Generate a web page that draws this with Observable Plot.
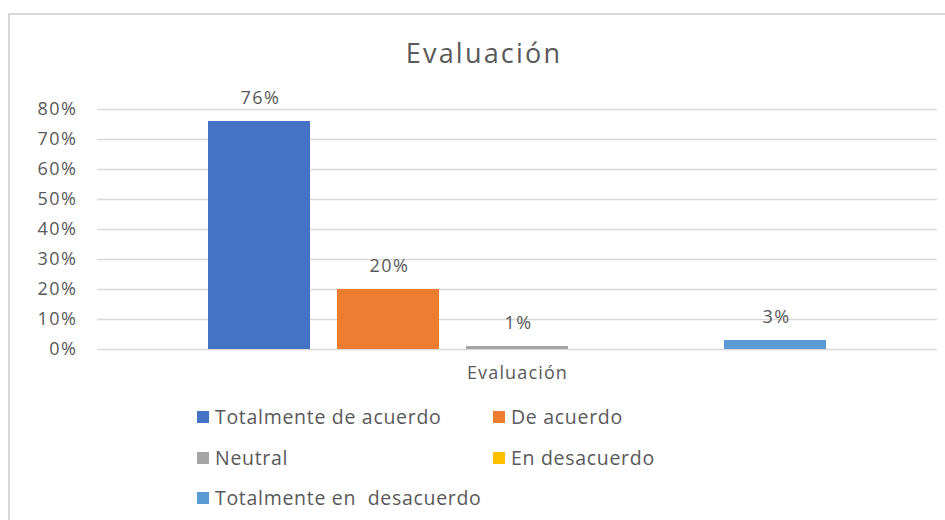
<!DOCTYPE html>
<html>
<head>
<meta charset="utf-8">
<script src="https://cdn.jsdelivr.net/npm/d3@7"></script>
<script src="https://cdn.jsdelivr.net/npm/@observablehq/plot@0.6"></script>
<style>
  html, body { margin: 0; padding: 0; background: #fff; }
  #wrap { position: relative; width: 945px; height: 520px; overflow: hidden; font-family: "Open Sans", sans-serif; color: #595959; }
  #frame { position: absolute; left: 8px; top: 13px; width: 960px; height: 540px; border-top: 2px solid #d9d9d9; border-left: 2px solid #d9d9d9; box-sizing: border-box; }
  #title { position: relative; height: 85px; box-sizing: border-box; padding-top: 35px; padding-left: 23px; text-align: center; font-size: 27px; line-height: 36px; letter-spacing: 2.2px; }
  #chart { position: relative; height: 310px; }
  #legend { position: relative; }
  .item { position: absolute; display: flex; align-items: center; font-size: 19.5px; letter-spacing: 0.7px; white-space: pre; line-height: 24px; }
  .sw { width: 12px; height: 12px; margin-right: 6px; flex: none; }
</style>
</head>
<body>
<div id="wrap">
  <div id="frame"></div>
  <div id="title">Evaluación</div>
  <div id="chart"></div>
  <div id="legend"></div>
</div>
<script>
const categories = ["Evaluación"];
const series = ["Totalmente de acuerdo", "De acuerdo", "Neutral", "En desacuerdo", "Totalmente en  desacuerdo"];
const values = [76, 20, 1, 0, 3];
const colors = ["#4472C4", "#ED7D31", "#A5A5A5", "#FFC000", "#5B9BD5"];
const yTicks = [0, 10, 20, 30, 40, 50, 60, 70, 80];

const data = series.map((s, i) => ({cat: categories[0], series: s, value: values[i]}));

const chart = Plot.plot({
  width: 945,
  height: 310,
  marginTop: 24,
  marginLeft: 97,
  marginRight: 8,
  marginBottom: 46,
  style: {fontFamily: "Open Sans, sans-serif", fontSize: "18px", color: "#595959", background: "transparent", overflow: "visible"},
  fx: {domain: categories, padding: 0, label: null},
  x: {domain: series, paddingInner: 0.21, paddingOuter: 0.85, axis: null},
  y: {domain: [0, 80], axis: null},
  color: {domain: series, range: colors},
  marks: [
    Plot.ruleY(yTicks, {stroke: "#d9d9d9", strokeWidth: 1.5}),
    Plot.axisY({ticks: yTicks, tickFormat: d => d + "%", tickSize: 0, tickPadding: 20, label: null, fontSize: 18}),
    Plot.barY(data, {fx: "cat", x: "series", y: "value", fill: "series"}),
    Plot.text(data.filter(d => d.value > 0), {fx: "cat", x: "series", y: "value", text: d => d.value + "%", dy: -23, dx: 1, fontSize: 18}),
    Plot.axisFx({anchor: "bottom", tickSize: 0, tickPadding: 17, label: null, fontSize: 18})
  ]
});
d3.select(chart).selectAll("g[aria-label='y-axis tick label'] text").style("letter-spacing", "1.5px");
d3.select(chart).selectAll("g[aria-label='text'] text").style("letter-spacing", "1.5px");
d3.select(chart).selectAll("g[aria-label='fx-axis tick label'] text").style("letter-spacing", "1.15px");
document.getElementById("chart").appendChild(chart);

// Legend
const legend = document.getElementById("legend");
const pos = [[197, 22], [493, 22], [197, 63], [493, 63], [197, 103]];
series.forEach((s, i) => {
  const it = document.createElement("div");
  it.className = "item";
  it.style.left = pos[i][0] + "px";
  it.style.top = (pos[i][1] - 12) + "px";
  const sw = document.createElement("span");
  sw.className = "sw";
  sw.style.background = colors[i];
  const tx = document.createElement("span");
  tx.textContent = s;
  it.appendChild(sw);
  it.appendChild(tx);
  legend.appendChild(it);
});
</script>
</body>
</html>
